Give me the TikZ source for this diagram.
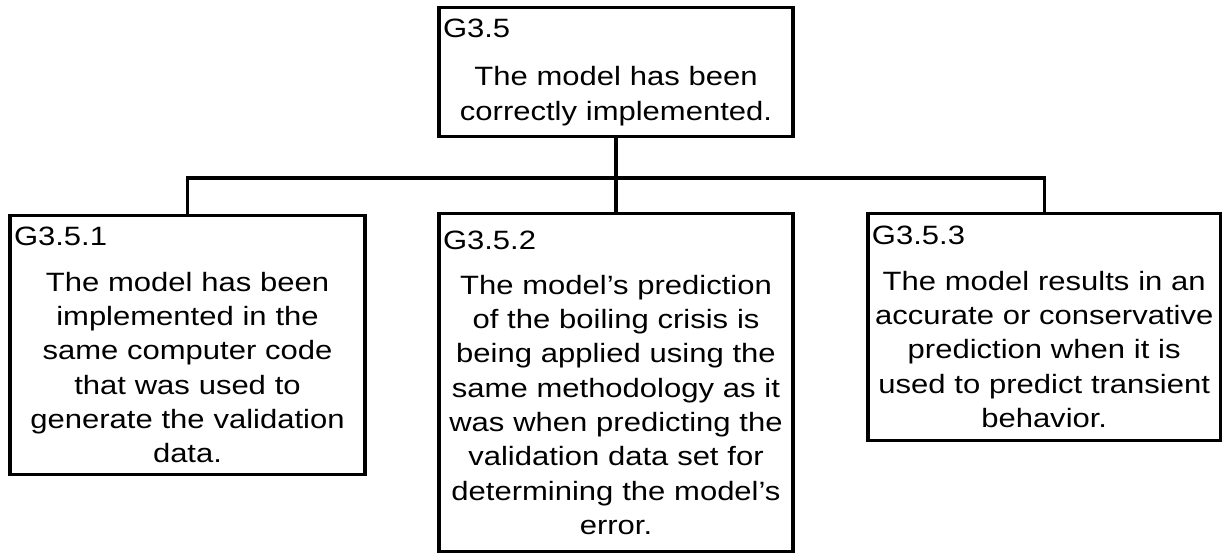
\documentclass[tikz,border=0pt]{standalone}
\usepackage{fontspec}
\setmainfont{Liberation Sans}[FakeStretch=1.17]
\tikzset{
	meta/.style={draw, line width=3.2pt, align=center, anchor=north, % caja de cada meta
		inner xsep=2pt, inner ysep=11pt, font=\fontsize{26.5}{34.3}\selectfont},
	enlace/.style={line width=3.2pt} % lineas entre las metas
}
\newcommand{\etiqueta}[1]{\makebox[\linewidth][l]{\hspace{2pt}#1}} % nombre arriba a la izquierda

\begin{document}
\begin{tikzpicture}[x=1pt, y=-1pt]
	\useasboundingbox (0,0) rectangle (1223,552);
	\node[meta, text width=350pt, minimum height=129pt] (G35) at (616,6)
		{\etiqueta{G3.5}\\[14.5pt] The model has been\\ correctly implemented.};
	\node[meta, text width=351pt, minimum height=259pt] (G351) at (187.5,214)
		{\etiqueta{G3.5.1}\\[11pt] The model has been\\ implemented in the\\ same computer code\\
		that was used to\\ generate the validation\\ data.};
	\node[meta, text width=350pt, minimum height=338pt] (G352) at (616,212)
		{\etiqueta{G3.5.2}\\[11pt] The model's prediction\\ of the boiling crisis is\\ being applied using the\\
		same methodology as it\\ was when predicting the\\ validation data set for\\ determining the model's\\ error.};
	\node[meta, text width=348.5pt, minimum height=227pt] (G353) at (1044.2,212)
		{\etiqueta{G3.5.3}\\[11pt] The model results in an\\ accurate or conservative\\ prediction when it is\\
		used to predict transient\\ behavior.};
	\coordinate (bus) at (G35.south |- 0,178);
	\draw[enlace] (G35.south) -- (bus);
	\draw[enlace] (G351.north) |- (bus) -| (G353.north);
	\draw[enlace] (bus) -- (G352.north);
\end{tikzpicture}
\end{document}
